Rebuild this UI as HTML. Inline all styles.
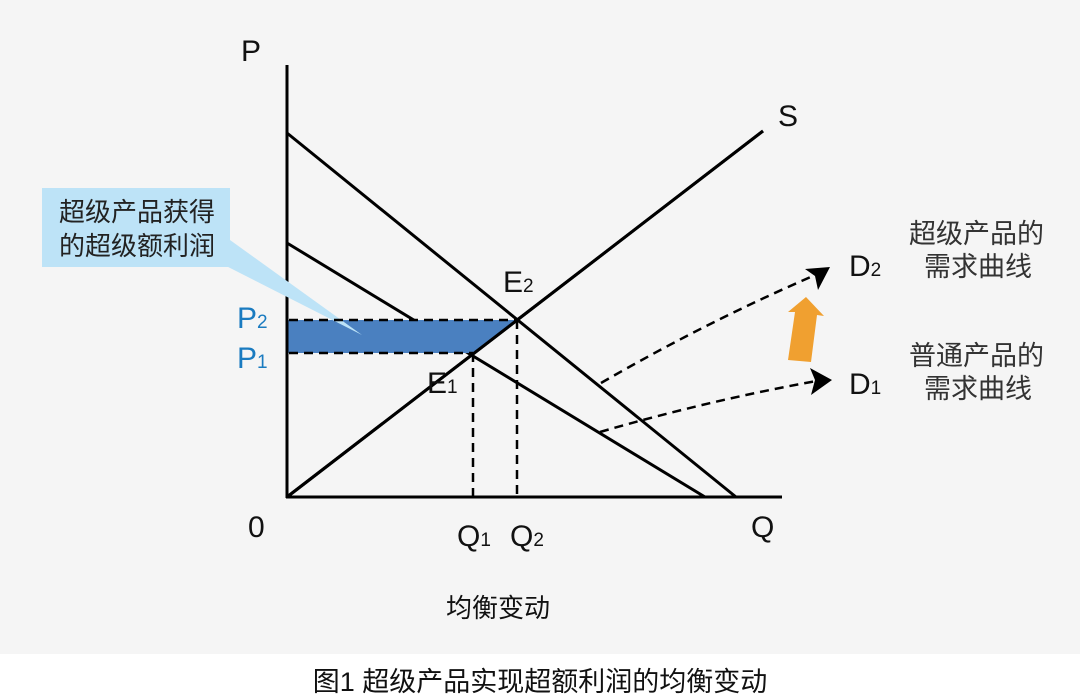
<!DOCTYPE html>
<html><head><meta charset="utf-8"><style>
html,body{margin:0;padding:0;background:#fff;}
svg{display:block;}
text{font-family:"Liberation Sans","Noto Sans CJK SC",sans-serif;}
</style></head><body>
<svg width="1080" height="699" viewBox="0 0 1080 699" xmlns="http://www.w3.org/2000/svg">
<rect x="0" y="0" width="1080" height="654" fill="#f5f5f5"/>
<rect x="0" y="654" width="1080" height="45" fill="#ffffff"/>
<!-- axes & curves -->
<g stroke="#000" stroke-width="3" fill="none">
<line x1="287" y1="65" x2="287" y2="498"/>
<line x1="286" y1="497" x2="782" y2="497"/>
<line x1="287" y1="497" x2="763" y2="131"/>
<line x1="287" y1="133" x2="736" y2="497"/>
<line x1="287" y1="243" x2="705" y2="497"/>
</g>
<!-- profit area (on top of lines) -->
<polygon points="287,320 517,320 473,353 287,353" fill="#4a80c0"/>
<line x1="287" y1="497" x2="763" y2="131" stroke="#000" stroke-width="3"/>
<line x1="287" y1="65" x2="287" y2="498" stroke="#000" stroke-width="3"/>
<!-- callout -->
<polygon points="175,240 230,240 362,335" fill="#bde3f7"/>
<rect x="42" y="188" width="188" height="79" fill="#bde3f7"/>
<text x="137" y="221" font-size="26" fill="#222" text-anchor="middle">超级产品获得</text>
<text x="137" y="255" font-size="26" fill="#222" text-anchor="middle">的超级额利润</text>
<g stroke="#000" stroke-width="2.5" fill="none" stroke-dasharray="9,6">
<line x1="289" y1="320" x2="517" y2="320"/>
<line x1="289" y1="353" x2="473" y2="353"/>
<line x1="473" y1="353" x2="473" y2="497"/>
<line x1="517" y1="320" x2="517" y2="497"/>
<path d="M601,383 Q710,320 820,273"/>
<path d="M600,432 Q710,400 822,380"/>
</g>
<!-- arrowheads -->
<polygon points="830,267 805,269 815,276 818,290" fill="#000"/>
<polygon points="832,380 810,368 815,380 811,395" fill="#000"/>
<!-- orange arrow -->
<polygon points="788,360 795,312 788,312 806,297 824,316 817,315 811,362" fill="#f0a030"/>
<!-- labels -->
<g font-size="30" fill="#111">
<text x="241" y="61">P</text>
<text x="778" y="126">S</text>
<text x="503" y="292">E<tspan font-size="19">2</tspan></text>
<text x="427" y="393">E<tspan font-size="19">1</tspan></text>
<text x="248" y="537">0</text>
<text x="457" y="546">Q<tspan font-size="19">1</tspan></text>
<text x="510" y="546">Q<tspan font-size="19">2</tspan></text>
<text x="751" y="537">Q</text>
<text x="849" y="276">D<tspan font-size="19">2</tspan></text>
<text x="849" y="394">D<tspan font-size="19">1</tspan></text>
</g>
<g font-size="30" fill="#1a7bc0">
<text x="237" y="328">P<tspan font-size="19">2</tspan></text>
<text x="237" y="368">P<tspan font-size="19">1</tspan></text>
</g>
<g font-size="27" fill="#333">
<text x="909" y="243">超级产品的</text>
<text x="924" y="276">需求曲线</text>
<text x="909" y="365">普通产品的</text>
<text x="924" y="398">需求曲线</text>
</g>
<text x="498" y="617" font-size="26" fill="#111" text-anchor="middle">均衡变动</text>
<text x="540" y="691" font-size="27" fill="#111" text-anchor="middle">图1 超级产品实现超额利润的均衡变动</text>
</svg>
</body></html>
